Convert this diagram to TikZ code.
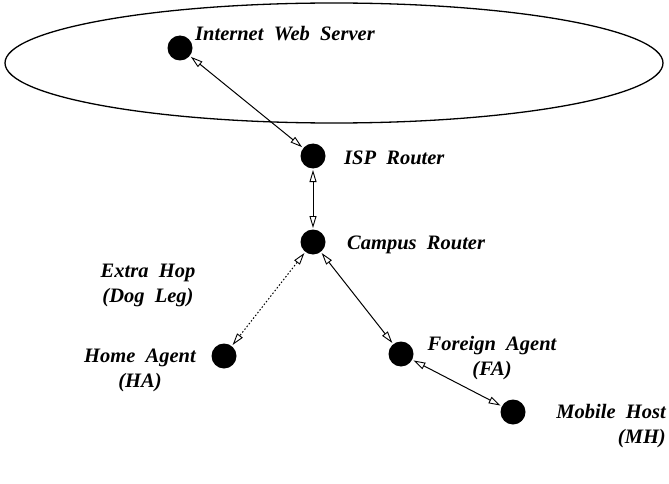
\documentclass[tikz,border=0pt]{standalone}
\usepackage{fontspec}
\setmainfont{Liberation Serif}
\usetikzlibrary{arrows.meta}
\begin{document}
\begin{tikzpicture}[x=1pt,y=-1pt,
  dot/.style={circle,fill=black,minimum size=25pt,inner sep=0pt,outer sep=1.5pt},
  lbl/.style={font=\fontsize{20.5}{25}\selectfont\bfseries\itshape,inner sep=0pt,align=center},
  link/.style={line width=1pt,{Triangle[open,length=12pt,width=7pt,line width=0.9pt]}-{Triangle[open,length=12pt,width=7pt,line width=0.9pt]}}]
\useasboundingbox (0,0) rectangle (669,484);
\draw[line width=1.3pt] (334,63) ellipse [x radius=329pt, y radius=60pt];
\node[dot] (ws) at (180,48) {};
\node[dot] (isp) at (313,156) {};
\node[dot] (cr) at (313,242) {};
\node[dot] (ha) at (224,356) {};
\node[dot] (fa) at (401,354) {};
\node[dot] (mh) at (513,412) {};
\node[lbl,anchor=west] (wsl) at (195,34) {Internet\ \ Web\ \ Server};
\node[lbl,anchor=west] (ispl) at (344,158) {ISP\ \ Router};
\node[lbl,anchor=west] (crl) at (347,245) {Campus\ \ Router};
\node[lbl] (ehl) at (148,285) {Extra\ \ Hop\\(Dog\ \ Leg)};
\node[lbl] (hal) at (140,370) {Home\ \ Agent\\(HA)};
\node[lbl] (fal) at (492,358) {Foreign\ \ Agent\\(FA)};
\node[lbl,align=right,anchor=east] (mhl) at (666,426) {Mobile\ \ Host\\(MH)};
\draw[link] (ws) -- (isp);
\draw[link] (isp) -- (cr);
\draw[link,dash pattern=on 1.5pt off 2pt] (cr) -- (ha);
\draw[link] (cr) -- (fa);
\draw[link] (fa) -- (mh);
\end{tikzpicture}
\end{document}
